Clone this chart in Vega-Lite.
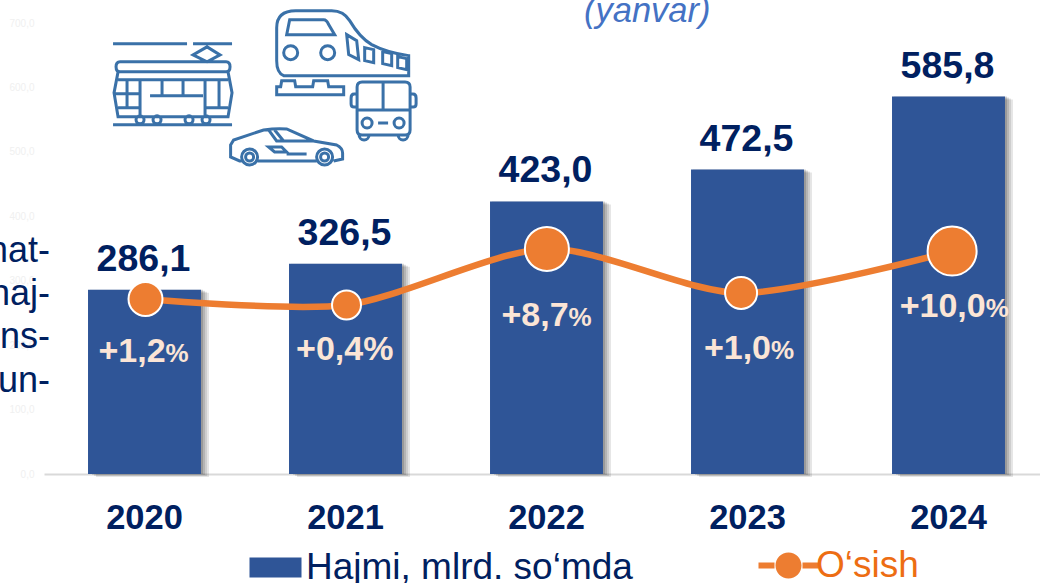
{"$schema":"https://vega.github.io/schema/vega-lite/v6.json","width":996,"height":451,"autosize":"none","padding":{"left":44,"top":23,"right":0,"bottom":109},"background":"white","title":{"text":"(yanvar)","anchor":"start","frame":"group","dx":540,"dy":50,"offset":-2,"baseline":"alphabetic","font":"Liberation Sans","fontSize":34.5,"fontStyle":"italic","fontWeight":"normal","color":"#4472C4"},"config":{"view":{"stroke":null},"font":"Liberation Sans"},"datasets":{"main":[{"year":"2020","value":286.1,"value_label":"286,1","growth":1.2,"growth_label":"+1,2","marker_year":2020.005,"marker_level":271.7,"label_year":2020.105,"label_level":174},{"year":"2021","value":326.5,"value_label":"326,5","growth":0.4,"growth_label":"+0,4","marker_year":2021.005,"marker_level":262.4,"label_year":2021.088,"label_level":177},{"year":"2022","value":423.0,"value_label":"423,0","growth":8.7,"growth_label":"+8,7","marker_year":2022.002,"marker_level":349.4,"label_year":2022.11,"label_level":230},{"year":"2023","value":472.5,"value_label":"472,5","growth":1.0,"growth_label":"+1,0","marker_year":2022.968,"marker_level":281,"label_year":2023.117,"label_level":178.6},{"year":"2024","value":585.8,"value_label":"585,8","growth":10.0,"growth_label":"+10,0","marker_year":2024.018,"marker_level":346,"label_year":2024.185,"label_level":244}],"icons":[{"icon":"tram","pos":2020.142,"level":604},{"icon":"train","pos":2020.981,"level":654},{"icon":"bus","pos":2021.187,"level":565},{"icon":"car","pos":2020.707,"level":506}],"side":[{"t":"mat-","pos":2019.53,"level":346},{"t":"haj-","pos":2019.53,"level":279},{"t":"ns-","pos":2019.53,"level":213},{"t":"un-","pos":2019.53,"level":144}]},"layer":[{"data":{"name":"main"},"mark":{"type":"bar","color":"black","opacity":0.1,"xOffset":8,"yOffset":3},"encoding":{"x":{"field":"year","type":"nominal","scale":{"range":[0,1005],"paddingInner":0.438,"paddingOuter":0.219},"axis":null},"y":{"field":"value","type":"quantitative","scale":{"domain":[0,700],"nice":false}}}},{"data":{"name":"main"},"mark":{"type":"bar","color":"black","opacity":0.1,"xOffset":6,"yOffset":2},"encoding":{"x":{"field":"year","type":"nominal","scale":{"range":[0,1005],"paddingInner":0.438,"paddingOuter":0.219},"axis":null},"y":{"field":"value","type":"quantitative"}}},{"data":{"name":"main"},"mark":{"type":"bar","color":"black","opacity":0.12,"xOffset":4,"yOffset":1},"encoding":{"x":{"field":"year","type":"nominal","scale":{"range":[0,1005],"paddingInner":0.438,"paddingOuter":0.219},"axis":null},"y":{"field":"value","type":"quantitative"}}},{"data":{"name":"main"},"mark":{"type":"bar","color":"black","opacity":0.15,"xOffset":2},"encoding":{"x":{"field":"year","type":"nominal","scale":{"range":[0,1005],"paddingInner":0.438,"paddingOuter":0.219},"axis":null},"y":{"field":"value","type":"quantitative"}}},{"data":{"name":"main"},"mark":{"type":"bar"},"encoding":{"x":{"field":"year","type":"nominal","scale":{"range":[0,1005],"paddingInner":0.438,"paddingOuter":0.219},"axis":{"title":null,"labelAngle":0,"ticks":false,"labelFont":"Liberation Sans","labelFontSize":34.5,"labelFontWeight":"bold","labelColor":"#002060","labelPadding":27,"domainColor":"#D9D9D9","domainWidth":2}},"y":{"field":"value","type":"quantitative","scale":{"domain":[0,700],"nice":false},"axis":{"title":null,"grid":false,"domain":false,"ticks":false,"values":[0,100,200,300,400,500,600,700],"labelExpr":"replace(format(datum.value,'.1f'),'.',',')","labelColor":"#F0F0F0","labelFontSize":10,"labelPadding":10}},"color":{"datum":"Hajmi, mlrd. so‘mda","scale":{"domain":["Hajmi, mlrd. so‘mda"],"range":["#2F5597"]},"legend":{"orient":"none","legendX":213,"legendY":526,"title":null,"symbolType":"M-26,-10H26V10H-26Z","symbolSize":4,"symbolStrokeWidth":0,"labelFontSize":37,"labelColor":"#002060","labelOffset":12,"labelLimit":500,"labelFont":"Liberation Sans"}}}},{"data":{"name":"main"},"mark":{"type":"text","font":"Liberation Sans","fontSize":37.5,"fontWeight":"bold","color":"#002060","baseline":"alphabetic","dy":-19,"dx":-1},"encoding":{"x":{"field":"year","type":"nominal","scale":{"range":[0,1005],"paddingInner":0.438,"paddingOuter":0.219},"axis":null},"y":{"field":"value","type":"quantitative"},"text":{"field":"value_label"}}},{"data":{"name":"main"},"mark":{"type":"line","color":"#ED7D31","strokeWidth":6.5,"interpolate":"cardinal","tension":0.2},"encoding":{"x":{"field":"marker_year","type":"quantitative","scale":{"domain":[2019.5,2024.5],"range":[0,1005]},"axis":null},"y":{"field":"marker_level","type":"quantitative"}}},{"data":{"name":"main"},"mark":{"type":"point","filled":true,"opacity":1,"stroke":"white","strokeWidth":2},"encoding":{"x":{"field":"marker_year","type":"quantitative","scale":{"domain":[2019.5,2024.5],"range":[0,1005]},"axis":null},"y":{"field":"marker_level","type":"quantitative"},"size":{"field":"year","type":"nominal","scale":{"type":"ordinal","domain":["2020","2021","2022","2023","2024"],"range":[1156,841,1936,1024,2401]},"legend":null},"fill":{"datum":"O‘sish","scale":{"domain":["O‘sish"],"range":["#ED7D31"]},"legend":{"orient":"none","legendX":726,"legendY":524,"title":null,"symbolType":"M-30,-3H-14V3H-30ZM14,-3H30V3H14ZM-13,0a13,13 0 1,0 26,0a13,13 0 1,0 -26,0Z","symbolSize":4,"symbolStrokeWidth":0,"labelFontSize":37,"labelColor":"#ED6D13","labelOffset":9,"labelLimit":300,"labelFont":"Liberation Sans"}}}},{"data":{"name":"main"},"mark":{"type":"text","font":"Liberation Sans","fontSize":34,"fontWeight":"bold","color":"#FBE5D6","align":"right","baseline":"alphabetic"},"encoding":{"x":{"field":"label_year","type":"quantitative","scale":{"domain":[2019.5,2024.5],"range":[0,1005]},"axis":null},"y":{"field":"label_level","type":"quantitative"},"text":{"field":"growth_label"}}},{"data":{"name":"main"},"mark":{"type":"text","font":"Liberation Sans","fontWeight":"bold","color":"#FBE5D6","align":"left","baseline":"alphabetic","text":"%"},"encoding":{"x":{"field":"label_year","type":"quantitative","scale":{"domain":[2019.5,2024.5],"range":[0,1005]},"axis":null},"y":{"field":"label_level","type":"quantitative"},"size":{"field":"year","type":"nominal","scale":{"type":"ordinal","domain":["2020","2021","2022","2023","2024"],"range":[26,34,26,26,26]},"legend":null}}},{"data":{"name":"icons"},"mark":{"type":"point","filled":false,"opacity":1,"size":4,"stroke":"#3A71A8","strokeWidth":3},"encoding":{"x":{"field":"pos","type":"quantitative","scale":{"domain":[2019.5,2024.5],"range":[0,1005]},"axis":null},"y":{"field":"level","type":"quantitative"},"shape":{"field":"icon","type":"nominal","legend":null,"scale":{"domain":["tram","train","bus","car"],"range":["M-60,-41H14M20,-41H59M34,-38L47,-30L34,-23L20,-30ZM-53,-23H53Q57,-23 57,-18Q57,-13 53,-13H-53Q-57,-13 -57,-18Q-57,-23 -53,-23ZM-55,-13L-59,8L-55,32H55L59,8L55,-13M-55,-5H55M-46,-5V23M-33,-5V32M-11,-5V11M10,-5V11M32,-5V32M46,-5V23M-23,11H30M-55,23H-33M32,23H55M-59,9H-33M-37,35a4,4 0 1,0 8,0a4,4 0 1,0 -8,0M-20,35a4,4 0 1,0 8,0a4,4 0 1,0 -8,0M12,35a4,4 0 1,0 8,0a4,4 0 1,0 -8,0M29,35a4,4 0 1,0 8,0a4,4 0 1,0 -8,0M-60,40H59","M-58,23Q-65,20 -65,8V-25Q-65,-42 -46,-42H-10Q2,-42 8,-32Q18,-15 30,-8Q45,0 67,3V23ZM-52,-33H-18Q-15,-33 -13,-28L-7,-18H-55ZM-58,0a7,7 0 1,0 14,0a7,7 0 1,0 -14,0M-21,0a7,7 0 1,0 14,0a7,7 0 1,0 -14,0M5,-18L15,-12L17,7L7,2ZM23,-5L32,-3V10L23,8ZM41,-1L50,1V13L41,11ZM56,4L65,6V17L56,15ZM-65,42H2V34H-13L-14,28H-28L-29,34H-46L-47,28H-60L-61,34H-65Z","M-21,-28H22Q27,-28 27,-23V20Q27,25 22,25H-21Q-26,25 -26,20V-23Q-26,-28 -21,-28ZM-26,0H27M0,-28V0M-26,-16H-29Q-32,-16 -32,-12V-6Q-32,-3 -29,-3H-26M27,-16H30Q33,-16 33,-12V-6Q33,-3 30,-3H27M-21,13a5,5 0 1,0 10,0a5,5 0 1,0 -10,0M11,13a5,5 0 1,0 10,0a5,5 0 1,0 -10,0M-5,13H5M-24,25a5,5 0 0,0 10,0M15,25a5,5 0 0,0 10,0","M-45,13H-47L-56,9V-3L-53,-8L-23,-18Q-10,-20 0,-19L27,-7L50,-3Q56,0 56,5V11L47,13M-29,13H30M-45,9a8,8 0 1,0 16,0a8,8 0 1,0 -16,0M30,9a8,8 0 1,0 16,0a8,8 0 1,0 -16,0M-18,-18L-10,-7H27M-12,-18L-3,-7M-18,-1H-5L0,4H-12ZM0,6H20M-41,9a4,4 0 1,0 8,0a4,4 0 1,0 -8,0M34,9a4,4 0 1,0 8,0a4,4 0 1,0 -8,0"]}}}},{"data":{"name":"side"},"mark":{"type":"text","font":"Liberation Sans","fontSize":36,"color":"#002060","align":"right","baseline":"middle"},"encoding":{"x":{"field":"pos","type":"quantitative","scale":{"domain":[2019.5,2024.5],"range":[0,1005]},"axis":null},"y":{"field":"level","type":"quantitative"},"text":{"field":"t"}}}],"resolve":{"scale":{"x":"independent","size":"independent"}}}
